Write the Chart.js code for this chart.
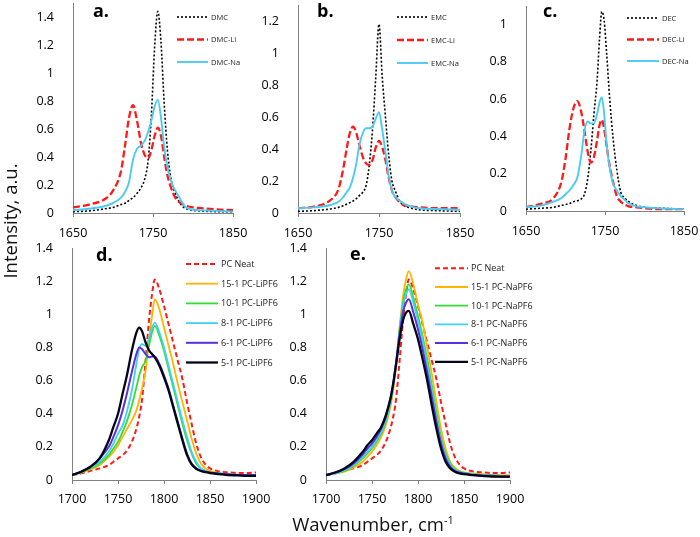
<!DOCTYPE html>
<html>
<head>
<meta charset="utf-8">
<script src="https://cdn.jsdelivr.net/npm/chart.js@4.4.1/dist/chart.umd.min.js"></script>
<style>
  html, body { margin: 0; padding: 0; background: #fff; }
  body { width: 700px; height: 537px; position: relative; overflow: hidden; font-family: "Open Sans", sans-serif; }
  canvas { position: absolute; }
  .title { position: absolute; color: #111; font-size: 18.5px; line-height: 24px; text-align: center; white-space: nowrap; }
  #ytitle { left: -90px; top: 209px; width: 200px; transform: rotate(-90deg); }
  #xtitle { left: 223px; top: 512px; width: 300px; }
  sup { font-size: 11px; line-height: 0; vertical-align: 7px; color: #111; }
</style>
</head>
<body>
<canvas id="chartA" width="250" height="245" style="left:0;top:0"></canvas>
<canvas id="chartB" width="240" height="245" style="left:240px;top:0"></canvas>
<canvas id="chartC" width="230" height="245" style="left:470px;top:0"></canvas>
<canvas id="chartD" width="280" height="270" style="left:0;top:240px"></canvas>
<canvas id="chartE" width="270" height="270" style="left:280px;top:240px"></canvas>
<div class="title" id="ytitle">Intensity, a.u.</div>
<div class="title" id="xtitle">Wavenumber, cm<sup>-1</sup></div>
<script>
// Top row: carbonates with Li / Na salts
const wnA = [1650, 1670, 1690, 1700, 1710, 1715, 1720, 1725, 1730, 1735, 1740, 1744, 1748, 1752, 1756, 1760, 1764, 1768, 1772, 1776, 1780, 1785, 1790, 1800, 1810, 1830, 1850];
const dmc = [0.01, 0.015, 0.03, 0.04, 0.06, 0.07, 0.09, 0.11, 0.14, 0.18, 0.25, 0.38, 0.7, 1.18, 1.44, 1.22, 0.78, 0.45, 0.26, 0.17, 0.11, 0.06, 0.035, 0.02, 0.015, 0.01, 0.01];
const dmcLi = [0.04, 0.06, 0.1, 0.16, 0.3, 0.48, 0.68, 0.77, 0.66, 0.5, 0.41, 0.39, 0.45, 0.55, 0.61, 0.55, 0.4, 0.27, 0.19, 0.13, 0.09, 0.07, 0.055, 0.04, 0.035, 0.025, 0.02];
const dmcNa = [0.02, 0.03, 0.05, 0.07, 0.11, 0.15, 0.22, 0.38, 0.46, 0.48, 0.52, 0.58, 0.66, 0.76, 0.81, 0.68, 0.47, 0.33, 0.24, 0.18, 0.14, 0.09, 0.045, 0.025, 0.02, 0.015, 0.01];

const wnB = [1650, 1670, 1690, 1700, 1706, 1710, 1714, 1718, 1722, 1726, 1730, 1734, 1738, 1742, 1746, 1750, 1754, 1758, 1762, 1766, 1770, 1775, 1780, 1790, 1800, 1820, 1850];
const emc = [0.01, 0.015, 0.025, 0.035, 0.045, 0.055, 0.065, 0.075, 0.09, 0.11, 0.13, 0.17, 0.3, 0.52, 0.85, 1.18, 0.85, 0.6, 0.36, 0.2, 0.14, 0.08, 0.05, 0.03, 0.02, 0.015, 0.01];
const emcLi = [0.03, 0.04, 0.08, 0.15, 0.28, 0.4, 0.5, 0.54, 0.5, 0.42, 0.35, 0.31, 0.3, 0.33, 0.41, 0.45, 0.41, 0.33, 0.22, 0.14, 0.1, 0.07, 0.05, 0.04, 0.035, 0.03, 0.03];
const emcNa = [0.03, 0.035, 0.05, 0.07, 0.1, 0.13, 0.16, 0.22, 0.31, 0.43, 0.5, 0.53, 0.53, 0.54, 0.59, 0.63, 0.52, 0.38, 0.23, 0.14, 0.1, 0.08, 0.06, 0.04, 0.03, 0.025, 0.02];

const wnC = [1650, 1670, 1685, 1695, 1700, 1705, 1710, 1715, 1720, 1724, 1728, 1732, 1736, 1740, 1743, 1746, 1749, 1752, 1756, 1760, 1765, 1770, 1775, 1780, 1790, 1800, 1820, 1850];
const dec = [0.01, 0.015, 0.02, 0.03, 0.035, 0.04, 0.05, 0.055, 0.065, 0.09, 0.17, 0.32, 0.52, 0.7, 0.92, 1.07, 1.02, 0.85, 0.6, 0.4, 0.22, 0.1, 0.07, 0.05, 0.03, 0.02, 0.015, 0.01];
const decLi = [0.02, 0.04, 0.07, 0.16, 0.28, 0.44, 0.55, 0.59, 0.53, 0.43, 0.32, 0.26, 0.29, 0.38, 0.46, 0.49, 0.44, 0.35, 0.24, 0.16, 0.08, 0.05, 0.035, 0.025, 0.02, 0.015, 0.01, 0.01];
const decNa = [0.02, 0.03, 0.05, 0.07, 0.09, 0.11, 0.14, 0.18, 0.3, 0.43, 0.48, 0.47, 0.47, 0.52, 0.58, 0.61, 0.52, 0.36, 0.23, 0.15, 0.11, 0.08, 0.06, 0.04, 0.025, 0.02, 0.015, 0.01];

// Bottom row: PC with LiPF6 / NaPF6 at different ratios
const wnPC = [1700, 1710, 1720, 1730, 1740, 1745, 1750, 1755, 1760, 1765, 1770, 1773, 1776, 1780, 1784, 1787, 1790, 1795, 1800, 1805, 1810, 1815, 1820, 1825, 1830, 1835, 1840, 1845, 1850, 1860, 1870, 1880, 1890, 1900];
const pcNeat = [0.03, 0.04, 0.055, 0.07, 0.09, 0.11, 0.13, 0.15, 0.18, 0.23, 0.31, 0.38, 0.48, 0.72, 0.98, 1.12, 1.21, 1.15, 1.05, 0.94, 0.83, 0.72, 0.61, 0.47, 0.34, 0.22, 0.14, 0.095, 0.07, 0.052, 0.046, 0.042, 0.042, 0.045];

const li15 = [0.03, 0.045, 0.065, 0.09, 0.14, 0.17, 0.21, 0.26, 0.31, 0.36, 0.42, 0.48, 0.55, 0.66, 0.86, 0.99, 1.09, 1.03, 0.92, 0.81, 0.7, 0.58, 0.47, 0.36, 0.25, 0.16, 0.1, 0.07, 0.055, 0.042, 0.036, 0.032, 0.03, 0.03];
const li10 = [0.03, 0.045, 0.07, 0.1, 0.15, 0.19, 0.23, 0.29, 0.36, 0.45, 0.56, 0.63, 0.68, 0.72, 0.82, 0.89, 0.93, 0.87, 0.78, 0.67, 0.56, 0.45, 0.34, 0.24, 0.16, 0.1, 0.07, 0.055, 0.045, 0.04, 0.035, 0.03, 0.03, 0.03];
const li8 = [0.03, 0.05, 0.075, 0.11, 0.17, 0.22, 0.28, 0.33, 0.42, 0.54, 0.7, 0.79, 0.82, 0.81, 0.86, 0.92, 0.95, 0.89, 0.8, 0.69, 0.58, 0.47, 0.36, 0.26, 0.17, 0.11, 0.07, 0.055, 0.045, 0.04, 0.035, 0.03, 0.03, 0.03];
const li6 = [0.03, 0.05, 0.08, 0.13, 0.2, 0.26, 0.33, 0.42, 0.53, 0.65, 0.76, 0.8, 0.79, 0.76, 0.74, 0.745, 0.745, 0.7, 0.63, 0.55, 0.45, 0.35, 0.25, 0.16, 0.1, 0.07, 0.055, 0.05, 0.045, 0.038, 0.035, 0.03, 0.03, 0.03];
const li5 = [0.03, 0.05, 0.08, 0.13, 0.24, 0.32, 0.4, 0.52, 0.64, 0.78, 0.89, 0.92, 0.9, 0.83, 0.78, 0.76, 0.74, 0.69, 0.62, 0.54, 0.44, 0.34, 0.24, 0.15, 0.095, 0.068, 0.055, 0.048, 0.042, 0.036, 0.03, 0.028, 0.025, 0.025];

const na15 = [0.03, 0.04, 0.05, 0.075, 0.11, 0.14, 0.17, 0.21, 0.26, 0.33, 0.44, 0.54, 0.68, 0.92, 1.12, 1.21, 1.26, 1.18, 1.06, 0.95, 0.8, 0.64, 0.47, 0.31, 0.19, 0.11, 0.075, 0.055, 0.045, 0.04, 0.035, 0.03, 0.03, 0.03];
const na10 = [0.03, 0.04, 0.055, 0.085, 0.13, 0.16, 0.19, 0.23, 0.28, 0.35, 0.46, 0.56, 0.7, 0.91, 1.08, 1.15, 1.18, 1.1, 0.99, 0.87, 0.73, 0.57, 0.41, 0.26, 0.16, 0.1, 0.065, 0.05, 0.045, 0.035, 0.03, 0.03, 0.025, 0.025];
const na8 = [0.03, 0.04, 0.06, 0.09, 0.14, 0.17, 0.2, 0.24, 0.29, 0.36, 0.47, 0.57, 0.7, 0.9, 1.06, 1.12, 1.15, 1.07, 0.96, 0.84, 0.7, 0.54, 0.38, 0.24, 0.15, 0.09, 0.06, 0.05, 0.04, 0.035, 0.03, 0.025, 0.025, 0.025];
const na6 = [0.03, 0.045, 0.065, 0.1, 0.155, 0.19, 0.22, 0.26, 0.31, 0.38, 0.49, 0.58, 0.7, 0.88, 1.02, 1.07, 1.09, 1.01, 0.91, 0.79, 0.65, 0.5, 0.35, 0.22, 0.13, 0.08, 0.055, 0.045, 0.04, 0.03, 0.025, 0.025, 0.02, 0.02];
const na5 = [0.03, 0.045, 0.07, 0.11, 0.17, 0.21, 0.24, 0.28, 0.32, 0.39, 0.49, 0.58, 0.69, 0.85, 0.97, 1.01, 1.02, 0.94, 0.85, 0.73, 0.6, 0.45, 0.31, 0.19, 0.11, 0.07, 0.05, 0.04, 0.035, 0.03, 0.025, 0.02, 0.02, 0.02];

// Tick labels
const xTicksTop = [1650, 1750, 1850];
const xTicksBottom = [1700, 1750, 1800, 1850, 1900];
const yTicksA = [0, 0.2, 0.4, 0.6, 0.8, 1, 1.2, 1.4];
const yTicksB = [0, 0.2, 0.4, 0.6, 0.8, 1, 1.2];
const yTicksC = [0, 0.2, 0.4, 0.6, 0.8, 1];
const yTicksPC = [0, 0.2, 0.4, 0.6, 0.8, 1, 1.2, 1.4];

const FONT = '"Open Sans", "Liberation Sans", sans-serif';
const AXIS = '#808080';

const pts = (xs, ys) => xs.map((x, i) => ({ x: x, y: ys[i] }));

// panel tag + legend drawn inside the plot, like the original
const panelText = {
  id: 'panelText',
  afterDraw(chart, args, o) {
    const ctx = chart.ctx;
    ctx.save();
    ctx.font = 'bold 18px ' + FONT;
    ctx.fillStyle = '#000';
    ctx.textBaseline = 'alphabetic';
    ctx.fillText(o.tag, o.tagX, o.tagY);
    ctx.font = o.size + 'px ' + FONT;
    ctx.textBaseline = 'middle';
    chart.data.datasets.forEach((ds, i) => {
      const y = o.y + i * o.gap;
      ctx.beginPath();
      ctx.strokeStyle = ds.borderColor;
      ctx.lineWidth = ds.borderWidth;
      ctx.setLineDash(ds.borderDash || []);
      ctx.moveTo(o.x0, y);
      ctx.lineTo(o.x1, y);
      ctx.stroke();
      ctx.setLineDash([]);
      ctx.fillStyle = '#222';
      ctx.fillText(ds.label, o.x1 + 3, y + 0.5);
    });
    ctx.restore();
  }
};

function panel(id, g, series, legend) {
  new Chart(document.getElementById(id), {
    type: 'line',
    data: {
      datasets: series.map((s, i) => ({
        label: s.label,
        data: pts(s.xs, s.ys),
        borderColor: s.color,
        borderWidth: s.width,
        borderDash: s.dash || [],
        borderCapStyle: 'butt',
        pointRadius: 0,
        cubicInterpolationMode: 'monotone',
        fill: false,
        order: -i
      }))
    },
    options: {
      responsive: false,
      animation: false,
      layout: { padding: { top: g.top, right: g.right, left: 0, bottom: 0 } },
      plugins: { legend: { display: false }, tooltip: { enabled: false }, panelText: legend },
      scales: {
        x: {
          type: 'linear',
          min: g.xTicks[0],
          max: g.xTicks[g.xTicks.length - 1],
          afterBuildTicks: s => { s.ticks = g.xTicks.map(v => ({ value: v })); },
          afterFit: s => { s.height = g.xh; s.paddingLeft = 0; s.paddingRight = 0; },
          ticks: { padding: g.xpad, color: '#000', font: { family: FONT, size: 12.5 }, maxRotation: 0, callback: v => String(v) },
          grid: { display: true, drawOnChartArea: false, drawTicks: true, tickLength: 4, color: AXIS },
          border: { display: true, color: AXIS, width: 1 }
        },
        y: {
          min: 0,
          max: g.ymax,
          afterBuildTicks: s => { s.ticks = g.yTicks.map(v => ({ value: v })); },
          afterFit: s => { s.width = g.yw; s.paddingTop = 0; s.paddingBottom = 0; },
          ticks: { padding: 11, color: '#000', font: { family: FONT, size: 12.5 }, callback: v => String(v) },
          grid: { display: false },
          border: { display: true, color: AXIS, width: 1 }
        }
      }
    },
    plugins: [panelText]
  });
}

const topStyles = [
  { color: '#000000', width: 1.6, dash: [2, 2] },
  { color: '#ff1a1a', width: 2.3, dash: [7, 3] },
  { color: '#4ccbf2', width: 1.9 }
];
const topSeries = (xs, names, values) => names.map((n, i) => Object.assign({ label: n, xs: xs, ys: values[i] }, topStyles[i]));

panel('chartA', { top: 3, right: 17, yw: 73, xh: 32, xpad: 9, ymax: 1.5, xTicks: xTicksTop, yTicks: yTicksA },
  topSeries(wnA, ['DMC', 'DMC-Li', 'DMC-Na'], [dmc, dmcLi, dmcNa]),
  { tag: 'a.', tagX: 93, tagY: 17, x0: 177, x1: 208, y: 17, gap: 22.5, size: 7.5 });

panel('chartB', { top: 5, right: 20, yw: 58, xh: 32, xpad: 9, ymax: 1.3, xTicks: xTicksTop, yTicks: yTicksB },
  topSeries(wnB, ['EMC', 'EMC-Li', 'EMC-Na'], [emc, emcLi, emcNa]),
  { tag: 'b.', tagX: 77, tagY: 17, x0: 157, x1: 188, y: 17, gap: 23, size: 7.5 });

panel('chartC', { top: 6, right: 16, yw: 56, xh: 34, xpad: 9, ymax: 1.1, xTicks: xTicksTop, yTicks: yTicksC },
  topSeries(wnC, ['DEC', 'DEC-Li', 'DEC-Na'], [dec, decLi, decNa]),
  { tag: 'c.', tagX: 73, tagY: 17, x0: 157, x1: 189, y: 18, gap: 21.5, size: 7.5 });

const pcStyles = [
  { color: '#ff1a1a', width: 2, dash: [5, 3] },
  { color: '#ffb400', width: 1.8 },
  { color: '#33dd33', width: 1.8 },
  { color: '#40d0f5', width: 1.8 },
  { color: '#5a2fe0', width: 2 },
  { color: '#05051a', width: 2.3 }
];
const pcSeries = (names, values) => names.map((n, i) => Object.assign({ label: n, xs: wnPC, ys: values[i] }, pcStyles[i]));

panel('chartD', { top: 8, right: 24, yw: 72, xh: 30, xpad: 8, ymax: 1.4, xTicks: xTicksBottom, yTicks: yTicksPC },
  pcSeries(['PC Neat', '15-1 PC-LiPF6', '10-1 PC-LiPF6', '8-1 PC-LiPF6', '6-1 PC-LiPF6', '5-1 PC-LiPF6'],
     [pcNeat, li15, li10, li8, li6, li5]),
  { tag: 'd.', tagX: 96, tagY: 21, x0: 186, x1: 218, y: 24, gap: 19.7, size: 9 });

panel('chartE', { top: 8, right: 40, yw: 46, xh: 30, xpad: 8, ymax: 1.4, xTicks: xTicksBottom, yTicks: yTicksPC },
  pcSeries(['PC Neat', '15-1 PC-NaPF6', '10-1 PC-NaPF6', '8-1 PC-NaPF6', '6-1 PC-NaPF6', '5-1 PC-NaPF6'],
     [pcNeat, na15, na10, na8, na6, na5]),
  { tag: 'e.', tagX: 70, tagY: 20, x0: 155, x1: 188, y: 28.3, gap: 18.7, size: 9 });
</script>
</body>
</html>
